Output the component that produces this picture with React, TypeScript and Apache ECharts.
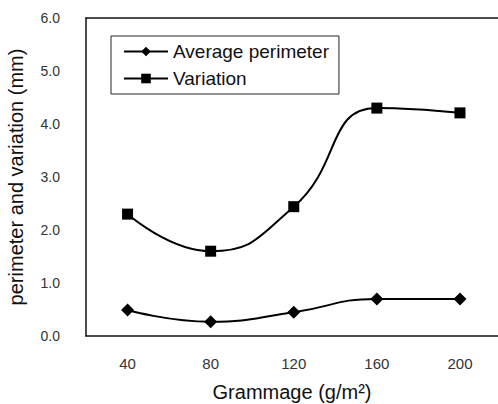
import React, { useEffect, useRef } from "react";
import * as echarts from "echarts";

const grammage = [40, 80, 120, 160, 200];
const averagePerimeter = [0.49, 0.27, 0.45, 0.7, 0.7];
const variation = [2.3, 1.6, 2.44, 4.3, 4.21];
const seriesNames = ["Average perimeter", "Variation"];

export default function App() {
  const ref = useRef<HTMLDivElement>(null);
  useEffect(() => {
    if (!ref.current) return;
    const chart = echarts.init(ref.current, null, { renderer: "svg" });
    const font = "Liberation Sans, Arial, sans-serif";
    chart.setOption({
      animation: false,
      backgroundColor: "#ffffff",
      grid: {
        left: 86,
        top: 18,
        bottom: 68,
        right: 0,
        show: false,
        outerBoundsMode: "none",
        containLabel: false,
      },
      legend: {
        orient: "vertical",
        left: 111,
        top: 36,
        padding: [6, 10, 6, 12],
        borderColor: "#222",
        borderWidth: 1,
        itemWidth: 44,
        itemHeight: 12,
        itemGap: 8,
        textStyle: { fontFamily: font, fontSize: 19, color: "#111" },
        data: seriesNames,
      },
      xAxis: [
        {
          type: "value",
          min: 20,
          max: 218.3,
          interval: 20,
          name: "Grammage (g/m\u00B2)",
          nameLocation: "middle",
          nameGap: 46,
          nameTextStyle: { fontFamily: font, fontSize: 20, color: "#111" },
          axisLine: { show: true, lineStyle: { color: "#111", width: 1.5 } },
          axisTick: { show: false },
          splitLine: { show: false },
          axisLabel: {
            fontFamily: font,
            fontSize: 15,
            color: "#333",
            margin: 20,
            showMaxLabel: false,
            formatter: (v: number) => (v % 40 === 0 && v >= 40 && v <= 200 ? String(v) : ""),
          },
        },
        {
          type: "value",
          position: "top",
          min: 20,
          max: 218.3,
          axisLine: { show: true, lineStyle: { color: "#111", width: 1.5 } },
          axisTick: { show: false },
          axisLabel: { show: false },
          splitLine: { show: false },
        },
      ],
      yAxis: {
        type: "value",
        min: 0,
        max: 6,
        interval: 1,
        name: "perimeter and variation (mm)",
        nameLocation: "middle",
        nameGap: 60,
        nameTextStyle: { fontFamily: font, fontSize: 20, color: "#111" },
        axisLine: { show: true, lineStyle: { color: "#111", width: 1.5 } },
        axisTick: { show: false },
        splitLine: { show: false },
        axisLabel: {
          fontFamily: font,
          fontSize: 14,
          color: "#333",
          margin: 26,
          formatter: (v: number) => v.toFixed(1),
        },
      },
      series: [
        {
          name: seriesNames[0],
          type: "line",
          smooth: 0.5,
          data: grammage.map((g, i) => [g, averagePerimeter[i]]),
          symbol: "diamond",
          symbolSize: 13,
          lineStyle: { color: "#000", width: 2 },
          itemStyle: { color: "#000" },
        },
        {
          name: seriesNames[1],
          type: "line",
          smooth: 0.5,
          data: grammage.map((g, i) => [g, variation[i]]),
          symbol: "rect",
          symbolSize: 11,
          lineStyle: { color: "#000", width: 2 },
          itemStyle: { color: "#000" },
        },
      ],
    });
    return () => chart.dispose();
  }, []);
  return (
    <div
      ref={ref}
      style={{ position: "fixed", left: 0, top: 0, width: 498, height: 404 }}
    />
  );
}
